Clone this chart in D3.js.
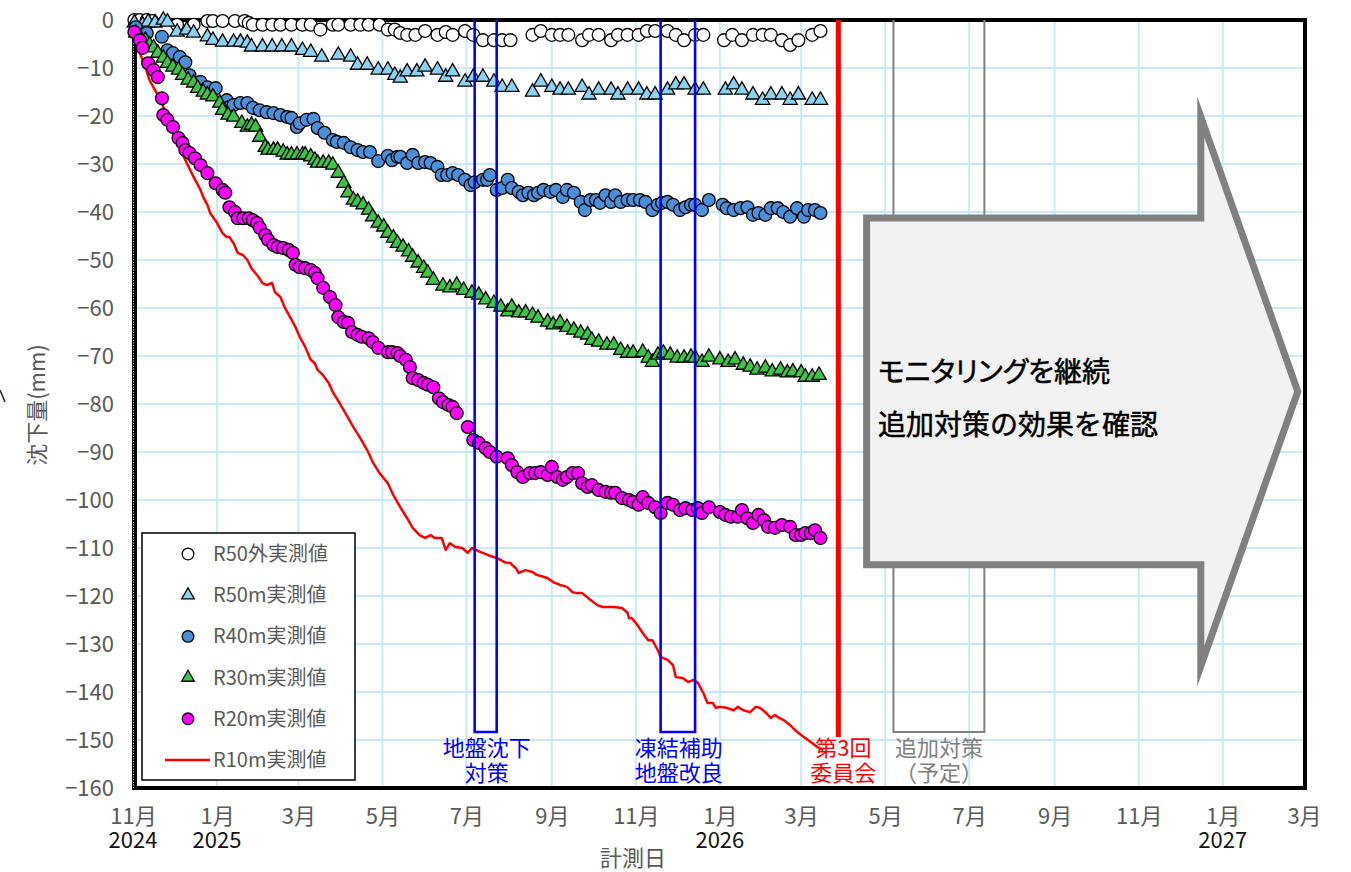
<!DOCTYPE html>
<html><head><meta charset="utf-8">
<script src="https://cdn.jsdelivr.net/npm/d3@7"></script>
<style>
html,body{margin:0;padding:0;background:#fff;}
svg{display:block;}
text{font-family:"Noto Sans CJK JP","Noto Sans",sans-serif;}
</style></head><body>
<svg id="chart" width="1351" height="872"></svg>
<script>
// ---------------- DATA ----------------
const START_DATE = "2024-11-01";
const END_DATE = "2027-03-01";
const xTickDates = ["2024-11-01","2025-01-01","2025-03-01","2025-05-01","2025-07-01","2025-09-01","2025-11-01",
  "2026-01-01","2026-03-01","2026-05-01","2026-07-01","2026-09-01","2026-11-01","2027-01-01","2027-03-01"];
const yearLabels = [["2024-11-01","2024"],["2025-01-01","2025"],["2026-01-01","2026"],["2027-01-01","2027"]];
const yTicks = [0,-10,-20,-30,-40,-50,-60,-70,-80,-90,-100,-110,-120,-130,-140,-150,-160];
const seriesNames = ["R50外実測値","R50m実測値","R40m実測値","R30m実測値","R20m実測値","R10m実測値"];
const xAxisTitle = "計測日";
const yAxisTitle = "沈下量(mm)";

// each point: [days since START_DATE, settlement (mm)]
const r50OutData = [[1,0],[5,0],[10,0],[14,-0.2],[32,-1],[44,-1],[54,-0.2],[58,-0.2],[65,-0.2],[74,-0.2],[81,-0.2],[84,-0.6],
  [87,-1],[94,-1],[101,-1],[107,-1],[115,-1],[123,-1],[129,-1],[136,-2],[145,-1],[149,-1],[158,-1],[165,-1],[171,-1],[179,-1],
  [185,-2],[190,-2],[194,-2.7],[199,-3.1],[205,-3.1],[212,-2.3],[221,-3.1],[227,-2.5],[232,-3.1],[241,-2.3],[247,-3.1],
  [254,-4.2],[262,-4.2],[268,-4.2],[274,-4.2],[290,-3.1],[296,-2.3],[304,-3.1],[310,-3.1],[316,-3.1],[326,-4.2],[331,-3.1],
  [338,-3.1],[347,-4.2],[352,-3.1],[359,-3.1],[367,-3.1],[373,-2.3],[379,-2.3],[388,-2.3],[394,-3.1],[400,-4.2],[408,-3.1],
  [414,-3.1],[429,-4.2],[435,-3.1],[442,-4.2],[450,-3.1],[457,-3.1],[463,-3.1],[471,-4.2],[477,-5.2],[483,-4.2],[493,-3.1],[499,-2.3]];

const r50mData = [[1,-0.6],[7,-1],[11,-0.4],[16,-0.6],[22,0],[25,-0.4],[32,-2.5],[39,-2.1],[44,-2.7],[54,-3.5],[58,-4.2],
  [65,-4.6],[73,-4.6],[78,-4.6],[83,-4.8],[86,-5.6],[94,-5.6],[101,-5.6],[108,-5.6],[115,-5.6],[123,-6.3],[129,-6.7],
  [137,-7.7],[149,-7.3],[158,-7.7],[163,-9.4],[170,-9.4],[178,-10.4],[185,-10.4],[190,-11.5],[194,-12.1],[199,-10.8],
  [206,-10.8],[212,-9.8],[221,-10.4],[227,-11.9],[232,-10.8],[241,-12.9],[247,-11.9],[254,-11.9],[262,-12.9],[268,-14],
  [275,-14],[290,-15],[296,-12.9],[304,-14],[310,-14.6],[316,-14.6],[326,-14],[331,-15.6],[338,-14.6],[347,-14.6],
  [352,-15.6],[359,-14.6],[367,-14.6],[373,-15.6],[379,-15.6],[388,-14.6],[394,-13.5],[400,-13.5],[408,-14.6],[414,-14.6],
  [430,-14.6],[436,-13.5],[442,-14.6],[450,-15.6],[457,-16.7],[463,-15.6],[471,-15.6],[477,-16.7],[483,-15.6],[493,-16.7],[499,-16.7]];

const r40mData = [[2,-1.5],[10,-2.7],[21,-3.5],[25,-6.3],[29,-6.9],[34,-7.7],[38,-8.8],[41,-11.5],[49,-12.9],[54,-14],
  [60,-14.2],[68,-16.7],[70,-18.1],[73,-17.7],[78,-17.3],[83,-17.3],[87,-18.3],[92,-18.8],[97,-19.2],[102,-19.4],[107,-19.8],
  [112,-20.2],[115,-20.4],[119,-22.3],[121,-21.5],[126,-20.8],[131,-20.6],[134,-22.5],[139,-23.5],[145,-25],[148,-25.4],
  [153,-25.6],[158,-26.5],[163,-27.1],[167,-27.5],[172,-27.5],[178,-29.4],[185,-28.3],[188,-29.2],[192,-28.5],[194,-28.5],
  [199,-29.8],[203,-28.1],[207,-29.8],[212,-29.6],[216,-29.8],[221,-30.6],[224,-32.3],[228,-32.3],[232,-31.9],[236,-32.3],
  [241,-33.3],[245,-34.4],[248,-33.8],[254,-33.3],[257,-33.3],[259,-32.3],[264,-35.4],[268,-35],[272,-33.3],[275,-35],
  [280,-35.8],[283,-36.5],[287,-36],[291,-36.5],[294,-36],[298,-35.4],[303,-35.8],[307,-35.4],[312,-36.9],[315,-35.4],
  [320,-36],[325,-37.9],[328,-39.6],[332,-37.5],[336,-37.5],[339,-38.1],[343,-36.5],[347,-37.9],[350,-36.5],[354,-37.9],
  [359,-37.5],[363,-37.5],[368,-37.5],[372,-37.9],[377,-39.6],[381,-38.5],[384,-38.1],[388,-37.9],[392,-38.5],[397,-39.6],
  [401,-39],[405,-38.5],[408,-38.5],[413,-39.6],[418,-37.5],[428,-38.5],[431,-39.2],[436,-39.6],[441,-39.2],[446,-39],
  [450,-40.6],[454,-40.2],[459,-40.6],[463,-39.2],[468,-39.2],[472,-40],[477,-41],[482,-39.2],[487,-41],[490,-39.6],[495,-39.6],[499,-40.2]];

const r30mData = [[2,-2.7],[5,-3.5],[9,-4.2],[12,-5.2],[15,-5.8],[18,-6.9],[22,-7.9],[25,-9],[29,-9.8],[33,-10.4],[36,-11.5],
  [40,-12.5],[44,-13.1],[47,-14.2],[51,-15],[54,-15.6],[58,-16],[63,-17.3],[65,-18.8],[69,-19.8],[73,-20.2],[79,-21.5],
  [83,-22.3],[86,-21.9],[89,-22.3],[92,-24.4],[96,-26.5],[98,-27.1],[102,-27.1],[105,-27.1],[109,-27.5],[112,-28.1],
  [115,-28.1],[119,-28.1],[123,-28.1],[125,-28.1],[129,-28.5],[132,-29.2],[134,-29.8],[138,-29.8],[142,-29.8],[145,-30.2],
  [149,-31.9],[153,-34],[156,-36],[160,-37.5],[163,-37.9],[167,-38.5],[171,-39.6],[174,-41],[178,-42.3],[182,-43.1],
  [185,-44.4],[189,-45.4],[192,-46.5],[196,-47.3],[200,-48.3],[203,-49.4],[207,-50.6],[211,-51.7],[214,-52.7],[218,-54.2],
  [225,-55.4],[230,-55.8],[235,-55.2],[240,-56.3],[246,-56.9],[251,-57.3],[256,-58.3],[262,-59],[267,-59.8],[272,-60.8],
  [275,-59.8],[280,-61],[285,-61],[290,-61.5],[294,-62.1],[301,-62.9],[305,-63.5],[310,-63.1],[315,-64],[320,-64.6],
  [325,-65.2],[330,-65.6],[333,-66.7],[338,-67.1],[344,-67.7],[349,-67.7],[354,-68.8],[359,-69.4],[363,-69.4],[370,-69.2],
  [374,-70.4],[377,-71.3],[381,-69.8],[385,-69.4],[390,-69.8],[395,-70.4],[400,-70.4],[405,-70.2],[408,-70.4],[413,-71.3],
  [418,-70.2],[426,-70.8],[432,-71.3],[437,-70.8],[443,-71.9],[448,-72.3],[453,-72.9],[459,-72.5],[464,-73.3],[470,-72.9],
  [475,-73.5],[479,-73.3],[485,-73.5],[488,-74.4],[493,-74.4],[498,-74]];

const r20mData = [[1,-2.5],[5,-4.2],[7,-5.8],[11,-9],[15,-10.4],[18,-11.9],[21,-16.3],[22,-19.8],[25,-20.8],[29,-22.3],
  [33,-24.6],[36,-25.6],[38,-27.1],[41,-27.7],[45,-28.8],[49,-30.2],[54,-31.9],[60,-34],[65,-35.4],[67,-36],[70,-39],
  [74,-40],[76,-41.3],[80,-41.3],[84,-41.3],[87,-41.7],[90,-42.3],[92,-43.3],[96,-44.8],[98,-45.8],[102,-46.9],[105,-47.3],
  [109,-47.5],[113,-47.9],[116,-48.5],[118,-51],[121,-51.5],[125,-51.7],[129,-52.1],[132,-52.7],[134,-53.8],[138,-55.8],
  [143,-57.7],[147,-59.4],[149,-61.9],[153,-62.9],[156,-63.1],[159,-65],[163,-65.6],[166,-66],[171,-66.3],[174,-67.1],
  [178,-68.3],[185,-69.2],[188,-69.2],[192,-69.4],[194,-70],[198,-70.8],[201,-72.3],[203,-74.6],[207,-75],[211,-75.6],
  [214,-76],[218,-76.5],[222,-78.8],[225,-79.6],[229,-80.2],[232,-80.6],[235,-81.9],[243,-84.8],[247,-87.5],[251,-88.1],
  [256,-89.2],[259,-90],[264,-91],[272,-91.3],[275,-92.7],[279,-94.2],[283,-95.2],[288,-94.4],[292,-94.4],[296,-94.2],
  [301,-94.8],[304,-93.1],[308,-95.2],[312,-95.8],[315,-95.2],[319,-94.4],[323,-94.4],[326,-96.5],[330,-97.3],[333,-96.9],
  [338,-97.9],[343,-98.3],[347,-98.5],[350,-98.5],[355,-99.6],[360,-100],[363,-100.4],[367,-101],[370,-99.4],[374,-100.6],
  [379,-101.5],[383,-102.7],[388,-100.6],[392,-101],[397,-102.1],[401,-101.7],[406,-102.1],[410,-101.7],[413,-102.7],
  [418,-101.5],[426,-102.5],[430,-103.1],[434,-103.5],[439,-103.5],[442,-102.1],[446,-103.8],[450,-104.8],[454,-103.1],
  [458,-104.2],[461,-105.6],[466,-105.8],[471,-105.2],[477,-105.6],[481,-107.3],[485,-107.3],[488,-106.9],[492,-106.9],
  [495,-106.3],[499,-107.9]];

const r10mData = [[1,-3],[3,-4.8],[5,-6.9],[9,-9.8],[12,-12.5],[16,-14.6],[20,-16.7],[25,-20.2],[29,-23.5],[34,-26.7],
  [39,-29.8],[44,-32.7],[49,-35.4],[51,-36.9],[54,-38.5],[56,-40.2],[61,-42.3],[65,-44.4],[68,-45.2],[70,-45.2],[73,-46.5],
  [76,-48.5],[80,-49],[83,-50],[86,-51.7],[91,-53.5],[94,-54.8],[97,-55.2],[101,-54.8],[103,-56.7],[107,-57.7],[110,-59.8],
  [114,-61.9],[118,-64],[121,-66],[125,-68.1],[129,-70.8],[132,-71.5],[134,-72.9],[138,-74],[142,-75.6],[145,-77.5],
  [150,-79.8],[155,-82.3],[160,-84.8],[165,-87.1],[170,-89.6],[174,-92.1],[179,-94.4],[185,-96.5],[189,-99],[194,-101.5],
  [199,-103.8],[203,-105.8],[208,-107.3],[212,-107.9],[216,-107.3],[219,-107.9],[224,-107.9],[227,-110.4],[230,-109],
  [234,-109.8],[239,-110],[243,-111],[246,-110],[252,-110.8],[258,-111.5],[264,-112.1],[267,-112.5],[270,-113],[274,-113.1],
  [275,-113.5],[278,-114.2],[280,-115.2],[285,-114.6],[290,-115],[293,-115.6],[298,-116],[301,-116.3],[305,-117.1],
  [310,-117.7],[315,-118.1],[319,-119.2],[323,-119.4],[326,-119.4],[332,-120.8],[337,-121.9],[341,-122.3],[349,-122.3],
  [355,-122.5],[359,-123.5],[360,-124.6],[362,-124.6],[366,-126],[370,-127.7],[374,-129.2],[377,-129.2],[381,-131.3],
  [383,-132.7],[388,-133.3],[392,-134.4],[394,-136.9],[399,-137.1],[403,-137.9],[407,-137.5],[410,-138.1],[414,-140.2],
  [417,-142.3],[421,-142.3],[423,-143.3],[426,-143.1],[431,-143.3],[436,-143.8],[439,-143.1],[443,-143.8],[448,-144.2],
  [452,-143.1],[455,-143.3],[459,-144.2],[463,-145.4],[466,-144.8],[469,-145.4],[472,-145.8],[477,-146.9],[482,-148.3],
  [487,-149.4],[492,-150.4],[497,-151.5],[501,-152.1]];

// event annotations
const blueEvents = [
  {start:"2025-07-07", end:"2025-07-23", lines:["地盤沈下","対策"]},
  {start:"2025-11-19", end:"2025-12-14", lines:["凍結補助","地盤改良"]}
];
const committeeEvent = {date:"2026-03-28", lines:["第3回","委員会"]};
const plannedEvent = {start:"2026-05-07", end:"2026-07-12", lines:["追加対策","（予定）"]};
const calloutLines = ["モニタリングを継続","追加対策の効果を確認"];
// callout outline in data units: [days since START_DATE, mm]
const calloutShape = [[532.5,-41.25],[775.1,-41.25],[775.1,-20.2],[845.5,-77.4],[775.1,-134.6],[775.1,-113.5],[532.5,-113.5]];

// ---------------- CHART ----------------
const parseDate = d3.timeParse("%Y-%m-%d");
const start = parseDate(START_DATE);
const dayToDate = d => new Date(start.getTime() + d * 86400000);

const svg = d3.select("#chart");
const L = 133, R = 1304, T = 20, B = 788;
const x = d3.scaleTime().domain([start, parseDate(END_DATE)]).range([L, R]);
const y = d3.scaleLinear().domain([-160, 0]).range([B, T]);
const gridColor = "#c9ebf8";
const tickColor = "#595959";

// grid
svg.append("g").selectAll("line").data(xTickDates.map(parseDate)).join("line")
  .attr("x1", d => x(d)).attr("x2", d => x(d)).attr("y1", T).attr("y2", B)
  .attr("stroke", gridColor).attr("stroke-width", 2);
svg.append("g").selectAll("line").data(yTicks).join("line")
  .attr("x1", L).attr("x2", R).attr("y1", d => y(d)).attr("y2", d => y(d))
  .attr("stroke", gridColor).attr("stroke-width", 2);

// border
svg.append("path").attr("d", `M${L},${T}H${R + 1}V${B}H${L}`).attr("fill", "none")
  .attr("stroke", "#000").attr("stroke-width", 4).attr("stroke-linejoin", "miter");
svg.append("line").attr("x1", L + 1.5).attr("x2", L + 1.5).attr("y1", T - 2).attr("y2", B + 2)
  .attr("stroke", "#000").attr("stroke-width", 5);
svg.append("line").attr("x1", L + 0.5).attr("x2", L + 0.5).attr("y1", T).attr("y2", B)
  .attr("stroke", "#fff").attr("stroke-width", 1).attr("stroke-dasharray", "1 1.6");

// axes
const xAxis = svg.append("g").attr("transform", `translate(0,${B})`)
  .call(d3.axisBottom(x).tickValues(xTickDates.map(parseDate)).tickSize(0)
    .tickFormat(d => (d.getMonth() + 1) + "月"));
xAxis.select(".domain").remove();
xAxis.selectAll("text").attr("y", 36).attr("dy", null)
  .attr("font-size", 22).attr("fill", tickColor).attr("font-family", '"Noto Sans CJK JP"');

const yAxis = svg.append("g").attr("transform", `translate(${L},0)`)
  .call(d3.axisLeft(y).tickValues(yTicks).tickSize(0).tickPadding(19)
    .tickFormat(d => d === 0 ? "0" : "\u2212" + Math.abs(d)));
yAxis.select(".domain").remove();
yAxis.selectAll("text").attr("dy", "0.36em")
  .attr("font-size", 22).attr("fill", tickColor).attr("font-family", '"Noto Sans CJK JP"');

svg.append("g").selectAll("text").data(yearLabels).join("text")
  .attr("x", d => x(parseDate(d[0]))).attr("y", 848).attr("text-anchor", "middle")
  .attr("font-size", 22).attr("fill", "#111").text(d => d[1]);

svg.append("text").attr("x", 633).attr("y", 866).attr("text-anchor", "middle")
  .attr("font-size", 22).attr("fill", tickColor).text(xAxisTitle);
svg.append("text").attr("transform", "translate(37,405) rotate(-90)").attr("dy", "0.36em")
  .attr("text-anchor", "middle").attr("font-size", 22).attr("fill", tickColor).text(yAxisTitle);

// clipped glyph at the left edge
svg.append("path").attr("d", "M0,390L5,402").attr("stroke", "#1d2b3a").attr("stroke-width", 1.6).attr("fill", "none");

// R10m line
const line = d3.line().x(d => x(dayToDate(d[0]))).y(d => y(d[1]));
svg.append("path").datum(r10mData).attr("d", line).attr("fill", "none")
  .attr("stroke", "#ff0000").attr("stroke-width", 2.5).attr("stroke-linejoin", "round");

// markers
const tri = d3.symbol(d3.symbolTriangle, 88)();
function drawCircles(data, fill) {
  svg.append("g").selectAll("circle").data(data).join("circle")
    .attr("cx", d => x(dayToDate(d[0]))).attr("cy", d => y(d[1])).attr("r", 6.4)
    .attr("fill", fill).attr("stroke", "#000").attr("stroke-width", 1.3);
}
function drawTriangles(data, fill) {
  svg.append("g").selectAll("path").data(data).join("path")
    .attr("d", tri).attr("transform", d => `translate(${x(dayToDate(d[0]))},${y(d[1])})`)
    .attr("fill", fill).attr("stroke", "#000").attr("stroke-width", 1.3);
}
const colors = {r50out:"#ffffff", r50m:"#8ad2f0", r40m:"#4a8fd8", r30m:"#3ec444", r20m:"#ff00ff", r10m:"#ff0000"};
drawCircles(r50OutData, colors.r50out);
drawTriangles(r50mData, colors.r50m);
drawCircles(r40mData, colors.r40m);
drawTriangles(r30mData, colors.r30m);
drawCircles(r20mData, colors.r20m);

// event brackets
const bracketBottom = 732;
function bracket(s, e, color, w) {
  const x0 = x(parseDate(s)), x1 = x(parseDate(e));
  svg.append("path").attr("d", `M${x0},${T}V${bracketBottom}H${x1}V${T}`).attr("fill", "none")
    .attr("stroke", color).attr("stroke-width", w);
}
function labelLines(cx, lines, color) {
  svg.append("g").selectAll("text").data(lines).join("text")
    .attr("x", cx).attr("y", (d, i) => 756 + i * 25).attr("text-anchor", "middle")
    .attr("font-size", 22).attr("fill", color).text(d => d);
}
blueEvents.forEach(ev => {
  bracket(ev.start, ev.end, "#0000ff", 2.6);
  labelLines((x(parseDate(ev.start)) + x(parseDate(ev.end))) / 2 + 1, ev.lines, "#0000ff");
});
bracket(plannedEvent.start, plannedEvent.end, "#808080", 2);
labelLines((x(parseDate(plannedEvent.start)) + x(parseDate(plannedEvent.end))) / 2, plannedEvent.lines, "#808080");
const cx = x(parseDate(committeeEvent.date));
svg.append("line").attr("x1", cx).attr("x2", cx).attr("y1", T).attr("y2", 737)
  .attr("stroke", "#ff0000").attr("stroke-width", 5);
labelLines(cx + 5, committeeEvent.lines, "#ff0000");

// callout arrow
svg.append("path")
  .attr("d", d3.line().x(d => x(dayToDate(d[0]))).y(d => y(d[1]))(calloutShape) + "Z")
  .attr("fill", "#f2f2f2").attr("stroke", "#808080").attr("stroke-width", 7)
  .attr("stroke-linejoin", "miter").attr("stroke-miterlimit", 10);
svg.append("g").selectAll("text").data(calloutLines).join("text")
  .attr("x", 878).attr("y", (d, i) => 382 + i * 53)
  .attr("font-size", 28).attr("fill", "#000")
  .attr("stroke", "#000").attr("stroke-width", 0.5)
  .style("font-feature-settings", (d, i) => i === 0 ? '"palt" 1' : "normal").text(d => d);

// legend
const lg = svg.append("g");
lg.append("rect").attr("x", 142).attr("y", 533).attr("width", 213).attr("height", 247)
  .attr("fill", "#fff").attr("stroke", "#000").attr("stroke-width", 1.5);
const legendFills = [colors.r50out, colors.r50m, colors.r40m, colors.r30m, colors.r20m];
const legendShapes = ["c", "t", "c", "t", "c"];
const rowY = i => 554 + i * 41.2;
seriesNames.forEach((name, i) => {
  const yy = rowY(i);
  if (i < 5) {
    if (legendShapes[i] === "c") {
      lg.append("circle").attr("cx", 188).attr("cy", yy).attr("r", 5.8)
        .attr("fill", legendFills[i]).attr("stroke", "#000").attr("stroke-width", 1.3);
    } else {
      lg.append("path").attr("d", d3.symbol(d3.symbolTriangle, 70)()).attr("transform", `translate(188,${yy})`)
        .attr("fill", legendFills[i]).attr("stroke", "#000").attr("stroke-width", 1.3);
    }
  } else {
    lg.append("line").attr("x1", 165).attr("x2", 210).attr("y1", yy).attr("y2", yy)
      .attr("stroke", colors.r10m).attr("stroke-width", 2.5);
  }
  lg.append("text").attr("x", 213).attr("y", yy + 7).attr("font-size", 20).attr("fill", tickColor).text(name);
});
</script>
</body></html>
